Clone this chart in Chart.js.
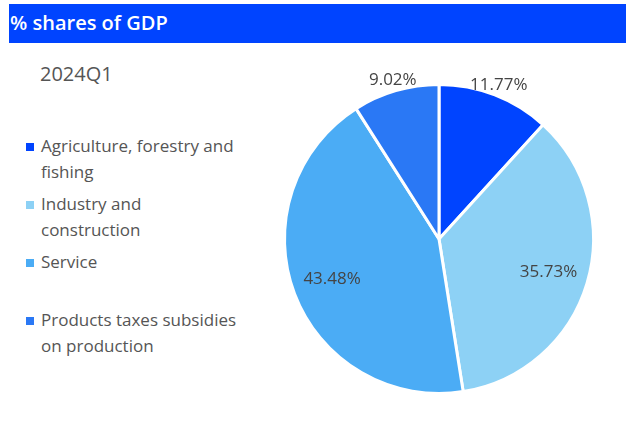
<!DOCTYPE html>
<html>
<head>
<meta charset="utf-8">
<script src="https://cdn.jsdelivr.net/npm/chart.js@4"></script>
<style>
  body { margin: 0; width: 639px; height: 428px; background: #fff; font-family: "Open Sans", "Noto Sans", sans-serif; position: relative; overflow: hidden; }
  .header { position: absolute; left: 9px; top: 4px; width: 617px; height: 39px; background: #0044ff; color: #fff; font-weight: 600; font-size: 20px; line-height: 38px; padding-left: 1px; box-sizing: border-box; }
  .period { position: absolute; left: 40px; top: 60px; font-size: 20px; color: #555; }
  .legend { position: absolute; left: 26px; top: 133px; width: 215px; list-style: none; margin: 0; padding: 0; }
  .legend li { height: 58px; position: relative; padding-left: 15px; font-size: 17px; line-height: 26px; color: #555; }
  .legend .sw { position: absolute; left: 0; top: 10px; width: 8px; height: 8px; }
  .chart-box { position: absolute; left: 259px; top: 59px; width: 360px; height: 360px; }
</style>
</head>
<body>
<div class="header">% shares of GDP</div>
<div class="period" id="period"></div>
<ul class="legend" id="legend"></ul>
<div class="chart-box"><canvas id="pie"></canvas></div>
<script>
// ---- data ----
const period = '2024Q1';
const categories = ['Agriculture, forestry and fishing', 'Industry and construction', 'Service', 'Products taxes subsidies on production'];
const shares = [11.77, 35.73, 43.48, 9.02];
const colors = ['#0044ff', '#8dd1f5', '#4bacf5', '#2a78f5'];

document.getElementById('period').textContent = period;

// --- HTML legend ---
const legend = document.getElementById('legend');
categories.forEach((c, i) => {
    const li = document.createElement('li');
    li.innerHTML = `<span class="sw" style="background:${colors[i]}"></span>${c}`;
    legend.appendChild(li);
});

// --- slice labels: inside for big slices, on the rim for small ones ---
const sliceLabels = {
    id: 'sliceLabels',
    afterDatasetsDraw(chart) {
        const ctx = chart.ctx;
        const meta = chart.getDatasetMeta(0);
        ctx.save();
        ctx.font = '17px "Open Sans", "Noto Sans", sans-serif';
        ctx.fillStyle = '#444';
        ctx.textAlign = 'center';
        ctx.textBaseline = 'middle';
        meta.data.forEach((arc, i) => {
            const p = arc.getProps(['x', 'y', 'startAngle', 'endAngle', 'outerRadius']);
            const mid = (p.startAngle + p.endAngle) / 2;
            const f = shares[i] < 15 ? 1.07 : 0.74;
            const x = p.x + Math.cos(mid) * p.outerRadius * f;
            const y = p.y + Math.sin(mid) * p.outerRadius * f;
            ctx.fillText(shares[i].toFixed(2) + '%', x, y);
        });
        ctx.restore();
    }
};

new Chart(document.getElementById('pie'), {
    type: 'pie',
    data: {
        labels: categories,
        datasets: [{
            data: shares,
            backgroundColor: colors,
            borderColor: '#fff',
            borderWidth: 3
        }]
    },
    options: {
        responsive: true,
        maintainAspectRatio: false,
        animation: false,
        layout: { padding: 24 },
        plugins: { legend: { display: false }, tooltip: { enabled: false } }
    },
    plugins: [sliceLabels]
});
</script>
</body>
</html>
